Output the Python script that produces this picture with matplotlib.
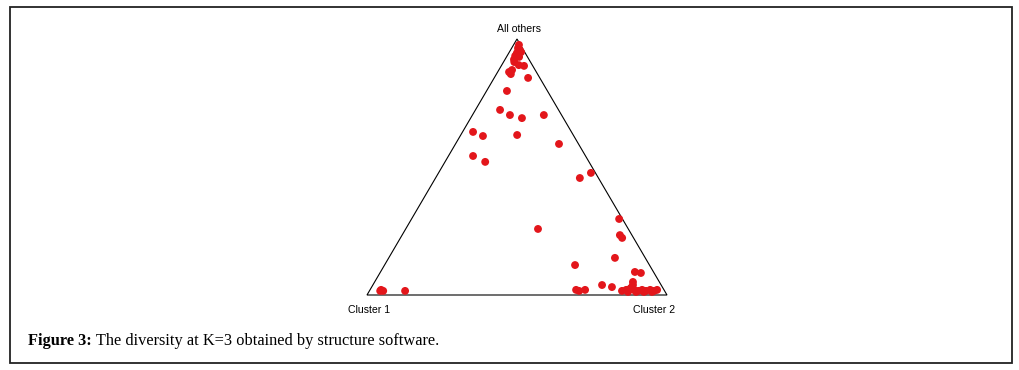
import matplotlib
matplotlib.use("Agg")
import matplotlib.pyplot as plt
from matplotlib.patches import Rectangle, Polygon

# Ancestry proportions (Cluster 1 = 1 - cluster2 - others)
q_cluster2 = [0.018, 0.021, 0.031, 0.027, 0.027, 0.042, 0.039, 0.057, 0.076, 0.038,
              0.048, 0.044, 0.113, 0.068, 0.082, 0.125, 0.171, 0.238, 0.035, 0.076,
              0.188, 0.345, 0.082, 0.134, 0.481, 0.508, 0.692, 0.441, 0.726, 0.739,
              0.754, 0.635, 0.848, 0.870, 0.861, 0.764, 0.801, 0.687, 0.699, 0.717,
              0.842, 0.854, 0.865, 0.868, 0.880, 0.896, 0.907, 0.922, 0.934, 0.949,
              0.957, 0.864, 0.891, 0.917, 0.944, 0.867, 0.866,
              0.037, 0.046, 0.036, 0.119,
              0.025, 0.034, 0.030, 0.036]
q_others = [0.977, 0.965, 0.957, 0.945, 0.934, 0.930, 0.949, 0.898, 0.895, 0.871,
            0.863, 0.879, 0.848, 0.797, 0.723, 0.703, 0.691, 0.703, 0.637, 0.621,
            0.625, 0.590, 0.543, 0.520, 0.457, 0.477, 0.297, 0.258, 0.234, 0.223,
            0.145, 0.117, 0.090, 0.086, 0.051, 0.039, 0.031, 0.020, 0.016, 0.020,
            0.016, 0.020, 0.023, 0.031, 0.020, 0.016, 0.020, 0.016, 0.020, 0.016,
            0.020, 0.012, 0.012, 0.012, 0.012, 0.039, 0.027,
            0.020, 0.016, 0.016, 0.016,
            0.960, 0.940, 0.920, 0.910]
vertex_labels = ["Cluster 1", "Cluster 2", "All others"]
caption_bold = "Figure 3:"
caption_text = " The diversity at K=3 obtained by structure software."

W, H = 1019, 370
fig = plt.figure(figsize=(W / 100, H / 100), dpi=100)
fig.patch.set_facecolor("white")

# border
fig.add_artist(Rectangle((10 / W, 1 - 363 / H), 1002 / W, 356 / H,
                         transform=fig.transFigure, fill=False,
                         edgecolor="#222222", linewidth=1.3))

# triangle axes
left, right, bottom_px, top_px = 367, 667, 295, 39
ax = fig.add_axes([left / W, 1 - bottom_px / H, (right - left) / W, (bottom_px - top_px) / H])
ax.set_xlim(0, 1)
ax.set_ylim(0, 1)
ax.axis("off")
ax.add_patch(Polygon([(0, 0), (1, 0), (0.5, 1)], closed=True, fill=False,
                     edgecolor="black", linewidth=0.8, clip_on=False))

xs = [c2 + o / 2 for c2, o in zip(q_cluster2, q_others)]
ys = list(q_others)
ax.scatter(xs, ys, s=32, color="#e3161b", edgecolors="none", clip_on=False, zorder=3)

lab_font = dict(family="Liberation Sans", fontsize=7.6, color="black", ha="center", va="center")
fig.text(369 / W, 1 - 310 / H, vertex_labels[0], **lab_font)
fig.text(654 / W, 1 - 310 / H, vertex_labels[1], **lab_font)
fig.text(519 / W, 1 - 29 / H, vertex_labels[2], **lab_font)

t1 = fig.text(28 / W, 1 - 341 / H, caption_bold, family="Liberation Serif",
              fontweight="bold", fontsize=11.8, va="center", ha="left")
fig.canvas.draw()
bb = t1.get_window_extent()
fig.text(bb.x1 / W, 1 - 341 / H, caption_text, family="Liberation Serif",
         fontsize=11.8, va="center", ha="left")

fig.savefig("out.png", dpi=100)
